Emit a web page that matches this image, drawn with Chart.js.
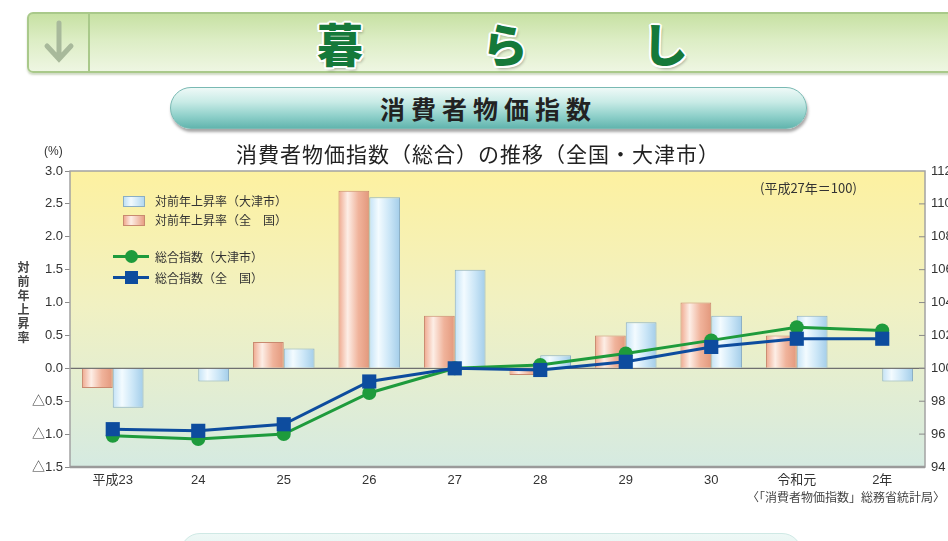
<!DOCTYPE html>
<html lang="ja">
<head>
<meta charset="utf-8">
<script src="https://cdn.jsdelivr.net/npm/chart.js@4"></script>
<style>
  html, body { margin: 0; padding: 0; }
  body { width: 948px; height: 541px; position: relative; overflow: hidden; background: #fff;
         font-family: "Noto Sans CJK JP", "Liberation Sans", sans-serif; color: #333; }
  .abs { position: absolute; }
  #banner { left: 27px; top: 12px; width: 940px; height: 57px; border: 2px solid #a9c98a; border-radius: 6px;
            background: linear-gradient(180deg, #c7e1a3 0%, #dcedc4 45%, #eef6e2 100%);
            box-shadow: 0 2px 2px rgba(120,150,90,0.35); }
  #divider { left: 88px; top: 14px; width: 2px; height: 57px; background: #a9c98a; }
  .kana { top: 14px; font-size: 46px; font-weight: 900; color: #15793a; line-height: 56px;
          transform: translateX(-50%);
          text-shadow: 2px 0 0 #fff, -2px 0 0 #fff, 0 2px 0 #fff, 0 -2px 0 #fff,
                       1.5px 1.5px 0 #fff, -1.5px -1.5px 0 #fff, 1.5px -1.5px 0 #fff, -1.5px 1.5px 0 #fff,
                       2px 3px 3px rgba(0,0,0,0.3); }
  #pill { left: 170px; top: 87px; width: 635px; height: 40px; border-radius: 21px; border: 1px solid #79b9b3;
          background: linear-gradient(180deg, #eef9f7 0%, #c8ebe6 35%, #8fd0ca 70%, #62b5ae 100%);
          box-shadow: 1px 3px 3px rgba(0,0,0,0.35); text-align: center; line-height: 40px;
          font-size: 25px; font-weight: 700; letter-spacing: 6px; color: #222; }
  #pill2 { left: 180px; top: 533px; width: 620px; height: 40px; border-radius: 20px; border: 1px solid #cfe9e5;
           background: linear-gradient(180deg, #eef8f6, #d6efeb); }
  #title { left: 0; width: 956px; top: 138px; text-align: center; font-size: 21px; letter-spacing: 1px; color: #222; line-height: 30px; }
  #unit { left: 44px; top: 144px; font-size: 12px; font-family: "Liberation Sans", sans-serif; }
  #ylab { left: 15px; top: 261px; writing-mode: vertical-rl; font-size: 12px; font-weight: 700; letter-spacing: 2px; color: #444; }
  .lg { font-size: 12px; color: #333; line-height: 14px; left: 155px; }
  .box { width: 20px; height: 9px; left: 123px; }
  #note { left: 760px; top: 178px; font-size: 13px; }
  #src { right: 3px; top: 488px; font-size: 12px; color: #444; }
</style>
</head>
<body>
<div id="banner" class="abs"></div>
<div id="divider" class="abs"></div>
<svg class="abs" style="left:43px;top:20px" width="32" height="44" viewBox="0 0 32 44">
  <path d="M16 3 V38 M4 26 L16 39 L28 26" fill="none" stroke="#a8b99b" stroke-width="5" stroke-linecap="round"/>
</svg>
<div class="abs kana" style="left:340px">暮</div>
<div class="abs kana" style="left:505px">ら</div>
<div class="abs kana" style="left:665px">し</div>
<div id="pill" class="abs">消費者物価指数</div>
<div id="pill2" class="abs"></div>

<canvas id="grafica" class="abs" style="left:0;top:0" width="948" height="541"></canvas>

<div id="title" class="abs">消費者物価指数（総合）の推移（全国・大津市）</div>
<div id="unit" class="abs">(%)</div>
<div id="ylab" class="abs">対前年上昇率</div>

<!-- leyenda -->
<div class="abs box" style="top:196px;border:1px solid #8aaec4;background:linear-gradient(90deg,#bfe0f5,#f2fafe 35%,#b2d8f0)"></div>
<div class="abs lg" style="top:194px">対前年上昇率（大津市）</div>
<div class="abs box" style="top:215px;border:1px solid #c88a70;background:linear-gradient(90deg,#f0aa90,#fdeee6 35%,#e8a084)"></div>
<div class="abs lg" style="top:213px">対前年上昇率（全　国）</div>
<div class="abs" style="left:113px;top:255px;width:36px;height:3px;background:#1e9b3c"></div>
<div class="abs" style="left:125px;top:250px;width:13px;height:13px;border-radius:50%;background:#1e9b3c"></div>
<div class="abs lg" style="top:250px">総合指数（大津市）</div>
<div class="abs" style="left:113px;top:276px;width:36px;height:3px;background:#0d4c9e"></div>
<div class="abs" style="left:125px;top:271px;width:13px;height:13px;background:#0d4c9e"></div>
<div class="abs lg" style="top:271px">総合指数（全　国）</div>

<div id="note" class="abs">(平成27年＝100)</div>
<div id="src" class="abs">〈「消費者物価指数」総務省統計局〉</div>

<script>
// Datos
const anios = ['平成23', '24', '25', '26', '27', '28', '29', '30', '令和元', '2年'];
const tasaZenkoku = [-0.3, 0.0, 0.4, 2.7, 0.8, -0.1, 0.5, 1.0, 0.5, 0.0];
const tasaOtsu = [-0.6, -0.2, 0.3, 2.6, 1.5, 0.2, 0.7, 0.8, 0.8, -0.2];
const indiceOtsu = [95.9, 95.7, 96.0, 98.5, 100.0, 100.2, 100.9, 101.7, 102.5, 102.3];
const indiceZenkoku = [96.3, 96.2, 96.6, 99.2, 100.0, 99.9, 100.4, 101.3, 101.8, 101.8];
const ticksIzq = [-1.5, -1.0, -0.5, 0.0, 0.5, 1.0, 1.5, 2.0, 2.5, 3.0];
const ticksDer = [94, 96, 98, 100, 102, 104, 106, 108, 110, 112];

const CAT_PCT = 0.72;

// Relleno degradado horizontal para cada barra
function rellenoBarra(ctx, stops, base) {
    const chart = ctx.chart;
    const area = chart.chartArea;
    if (!area || ctx.type !== 'data' || !chart.scales.x) return base;
    const ancho = (area.right - area.left) / anios.length * CAT_PCT / 2;
    const centro = chart.scales.x.getPixelForValue(ctx.dataIndex);
    const izq = ctx.datasetIndex === 0 ? centro - ancho : centro;
    const g = chart.ctx.createLinearGradient(izq, 0, izq + ancho, 0);
    stops.forEach(s => g.addColorStop(s[0], s[1]));
    return g;
}

const fondo = {
    id: 'fondo',
    beforeDatasetsDraw(chart) {
        const { ctx, chartArea: a } = chart;
        const g = ctx.createLinearGradient(0, a.top, 0, a.bottom);
        g.addColorStop(0, '#fdf1a0');
        g.addColorStop(0.45, '#f1f1c2');
        g.addColorStop(1, '#d5eae1');
        ctx.save();
        ctx.fillStyle = g;
        ctx.fillRect(a.left, a.top, a.right - a.left, a.bottom - a.top);
        // linea del cero
        const y0 = chart.scales.y.getPixelForValue(0);
        ctx.strokeStyle = '#6f6f6f';
        ctx.lineWidth = 1.2;
        ctx.beginPath();
        ctx.moveTo(a.left, y0);
        ctx.lineTo(a.right, y0);
        ctx.stroke();
        ctx.restore();
    },
    afterDatasetsDraw(chart) {
        const { ctx, chartArea: a } = chart;
        ctx.save();
        ctx.strokeStyle = '#a3a3a3';
        ctx.lineWidth = 1.5;
        ctx.strokeRect(a.left, a.top, a.right - a.left, a.bottom - a.top);
        ctx.strokeStyle = '#9a9a9a';
        ctx.lineWidth = 2.5;
        ctx.beginPath();
        ctx.moveTo(a.left, a.bottom);
        ctx.lineTo(a.right, a.bottom);
        ctx.stroke();
        // marcas del eje derecho hacia dentro
        ctx.strokeStyle = '#8a8a8a';
        ctx.lineWidth = 1;
        ticksDer.slice(1, -1).forEach(v => {
            const y = chart.scales.y2.getPixelForValue(v);
            ctx.beginPath();
            ctx.moveTo(a.right - 6, y);
            ctx.lineTo(a.right, y);
            ctx.stroke();
        });
        ctx.restore();
    }
};

const fuente = '"Liberation Sans", "Noto Sans CJK JP", sans-serif';

new Chart(document.getElementById('grafica'), {
    type: 'bar',
    data: {
        labels: anios,
        datasets: [
            {
                label: '対前年上昇率（全　国）',
                data: tasaZenkoku,
                yAxisID: 'y',
                order: 3,
                backgroundColor: ctx => rellenoBarra(ctx, [[0, '#efa88d'], [0.3, '#fdeee6'], [0.65, '#f0b39b'], [1, '#e3987c']], '#efa88d'),
                borderColor: '#c9896f',
                borderWidth: 1,
                categoryPercentage: CAT_PCT,
                barPercentage: 1.0
            },
            {
                label: '対前年上昇率（大津市）',
                data: tasaOtsu,
                yAxisID: 'y',
                order: 3,
                backgroundColor: ctx => rellenoBarra(ctx, [[0, '#c3e2f6'], [0.3, '#f3fbff'], [0.65, '#cbe6f7'], [1, '#a3cde9']], '#c3e2f6'),
                borderColor: '#8cafc4',
                borderWidth: 1,
                categoryPercentage: CAT_PCT,
                barPercentage: 1.0
            },
            {
                type: 'line',
                label: '総合指数（大津市）',
                data: indiceOtsu,
                yAxisID: 'y2',
                order: 2,
                borderColor: '#1e9b3c',
                borderWidth: 3,
                pointStyle: 'circle',
                pointRadius: 7,
                pointBackgroundColor: '#1e9b3c',
                pointBorderWidth: 0,
                tension: 0
            },
            {
                type: 'line',
                label: '総合指数（全　国）',
                data: indiceZenkoku,
                yAxisID: 'y2',
                order: 1,
                borderColor: '#0d4c9e',
                borderWidth: 3,
                pointStyle: 'rect',
                pointRadius: 10,
                pointBackgroundColor: '#0d4c9e',
                pointBorderWidth: 0,
                tension: 0
            }
        ]
    },
    options: {
        responsive: false,
        animation: false,
        layout: { padding: { top: 171, bottom: 44, left: 0, right: 0 } },
        plugins: { legend: { display: false }, tooltip: { enabled: false } },
        scales: {
            x: {
                grid: { display: false, drawTicks: false },
                border: { display: false },
                ticks: { color: '#333', font: { family: fuente, size: 13 }, padding: 6, maxRotation: 0 },
                afterFit(s) { s.height = 30; }
            },
            y: {
                position: 'left',
                min: -1.5,
                max: 3.0,
                afterBuildTicks(s) { s.ticks = ticksIzq.map(v => ({ value: v })); },
                grid: { drawOnChartArea: false, tickLength: 5, color: '#8a8a8a' },
                border: { display: false },
                ticks: {
                    color: '#333',
                    font: { family: fuente, size: 13 },
                    padding: 2,
                    callback: v => v < 0 ? '△' + Math.abs(v).toFixed(1) : v.toFixed(1)
                },
                afterFit(s) { s.width = 70; }
            },
            y2: {
                position: 'right',
                min: 94,
                max: 112,
                afterBuildTicks(s) { s.ticks = ticksDer.map(v => ({ value: v })); },
                grid: { display: false, drawTicks: false },
                border: { display: false },
                ticks: { color: '#333', font: { family: fuente, size: 13 }, padding: 6 },
                afterFit(s) { s.width = 23; }
            }
        }
    },
    plugins: [fondo]
});
</script>
</body>
</html>
